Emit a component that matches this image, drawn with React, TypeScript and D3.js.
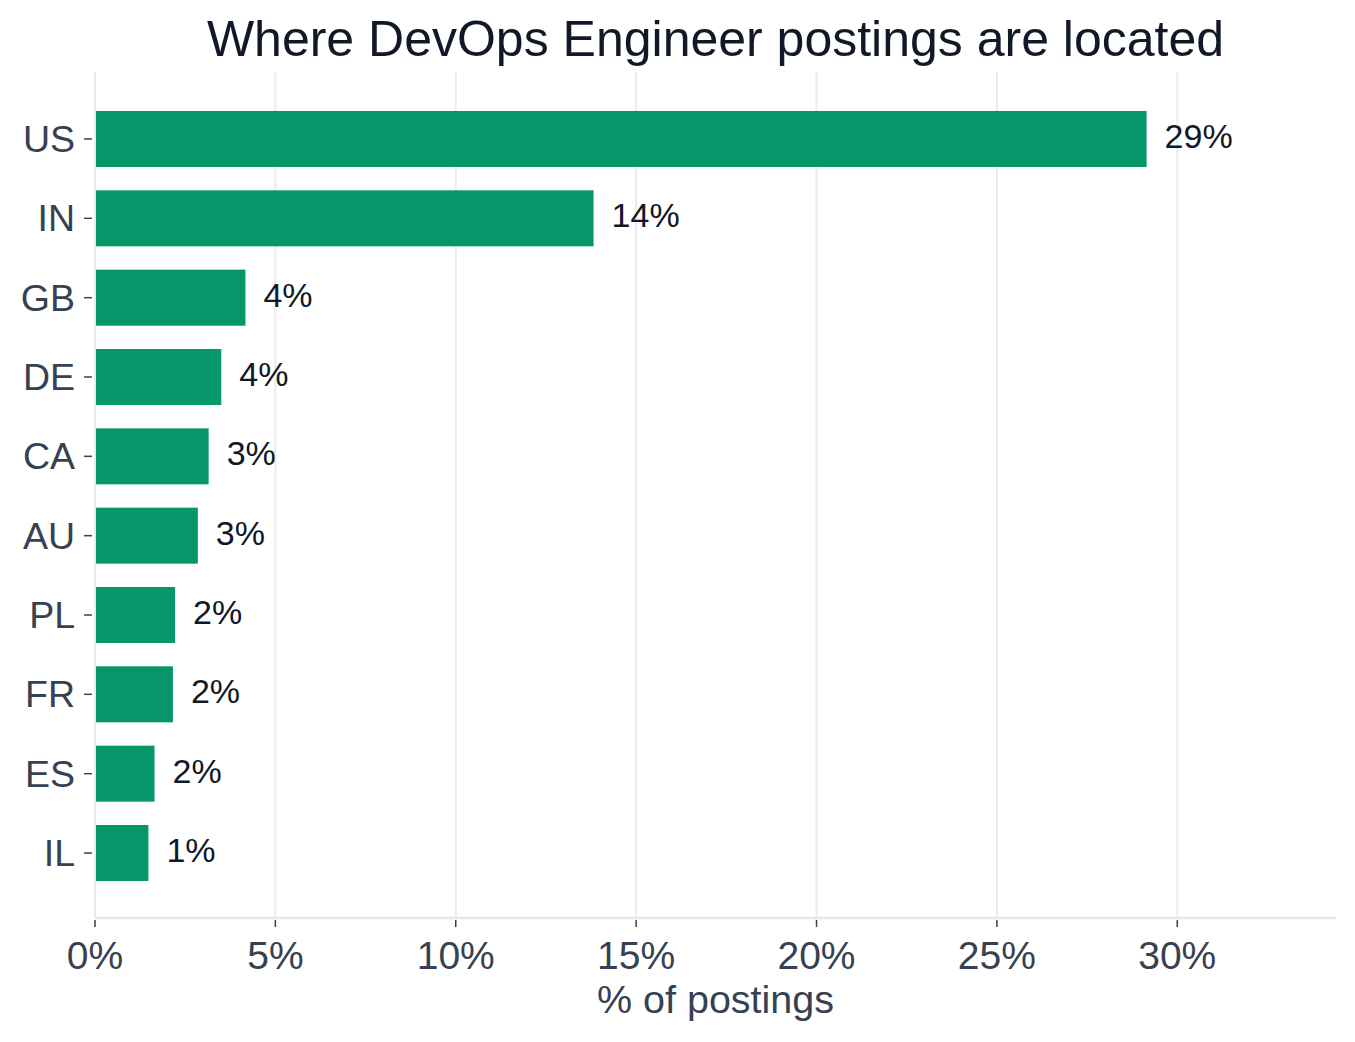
import React from "react";
import * as d3 from "d3";

const countries = ["US", "IN", "GB", "DE", "CA", "AU", "PL", "FR", "ES", "IL"];
const shares = [29.15, 13.82, 4.17, 3.5, 3.15, 2.85, 2.22, 2.16, 1.65, 1.48];
const xTicks = [0, 5, 10, 15, 20, 25, 30];
const xMax = 34.4;

const W = 1355;
const H = 1042;
const M = { left: 95, right: 19, top: 72, bottom: 124 };
const FONT = "'Liberation Sans', Arial, Helvetica, sans-serif";

export default function App() {
  const x = d3.scaleLinear().domain([0, xMax]).range([M.left, W - M.right]);
  const y = d3
    .scaleBand<string>()
    .domain(countries)
    .range([M.top + 1, H - M.bottom + 1])
    .paddingInner(0.294)
    .paddingOuter(0.479);
  const y0 = M.top;
  const y1 = H - M.bottom;
  const bw = y.bandwidth();

  return (
    <svg width={W} height={H} style={{ display: "block", position: "absolute", left: 0, top: 0 }} fontFamily={FONT}>
      <rect width={W} height={H} fill="#ffffff" />
      <text x={(M.left + W - M.right) / 2} y={56} textAnchor="middle" fontSize={50} fill="#111827">
        Where DevOps Engineer postings are located
      </text>
      {xTicks.map((t) => (
        <line key={"g" + t} x1={x(t)} x2={x(t)} y1={y0} y2={y1} stroke="#ebebef" strokeWidth={2} />
      ))}
      <line x1={M.left} x2={W - M.right} y1={y1} y2={y1} stroke="#e5e7eb" strokeWidth={2.5} />
      {countries.map((c, i) => (
        <g key={c}>
          <rect x={x(0) + 1} y={y(c)} width={x(shares[i]) - x(0) - 1} height={bw} fill="#069669" />
          <line x1={M.left - 11} x2={M.left - 3} y1={(y(c) as number) + bw / 2} y2={(y(c) as number) + bw / 2} stroke="#374151" strokeWidth={1.5} />
          <text x={M.left - 20} y={(y(c) as number) + bw / 2} dy="0.35em" textAnchor="end" fontSize={37.5} fill="#374151">
            {c}
          </text>
          <text x={x(shares[i]) + 18} y={(y(c) as number) + bw / 2 - 3} dy="0.35em" textAnchor="start" fontSize={34} fill="#111827">
            {d3.format(".0f")(shares[i]) + "%"}
          </text>
        </g>
      ))}
      {xTicks.map((t) => (
        <g key={"t" + t}>
          <line x1={x(t)} x2={x(t)} y1={y1 + 2} y2={y1 + 9} stroke="#374151" strokeWidth={1.5} />
          <text x={x(t)} y={969} textAnchor="middle" fontSize={39} fill="#374151">
            {t + "%"}
          </text>
        </g>
      ))}
      <text x={(M.left + W - M.right) / 2} y={1013} textAnchor="middle" fontSize={39.5} fill="#374151">
        % of postings
      </text>
    </svg>
  );
}
